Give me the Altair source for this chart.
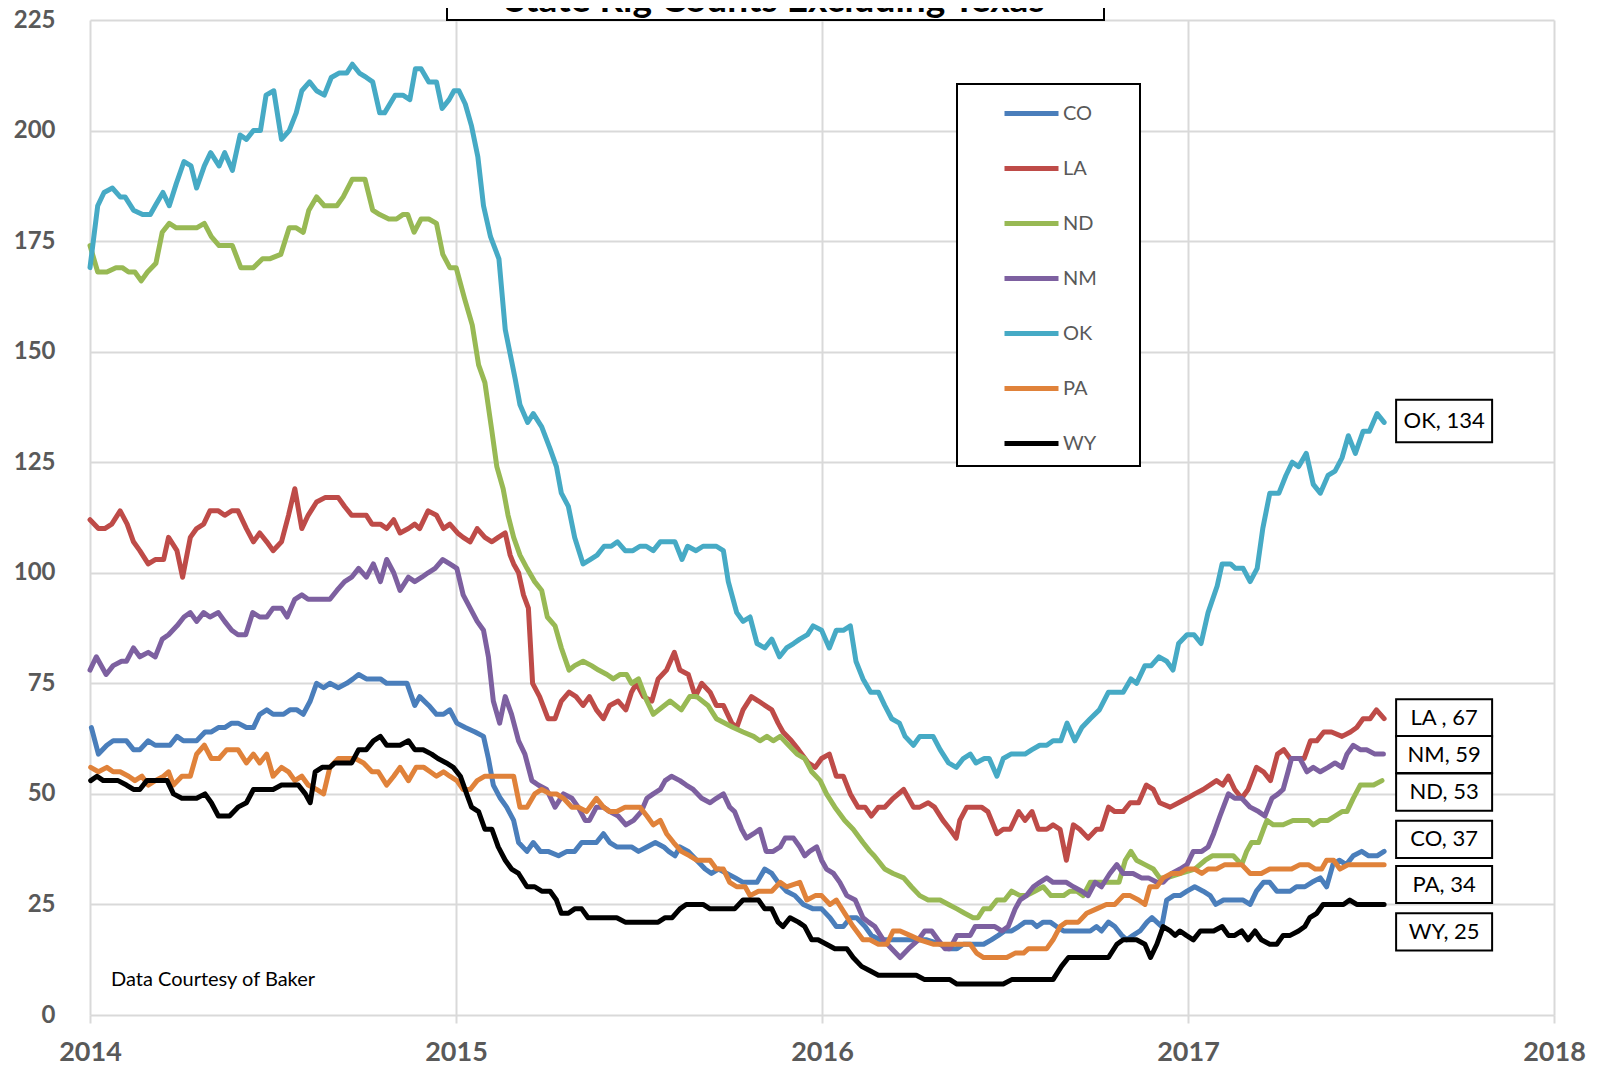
import altair as alt
import pandas as pd

SERIES = ["CO", "LA", "ND", "NM", "OK", "PA", "WY"]
COLORS = ["#4A7EBB", "#BE4B48", "#98B954", "#7D60A0", "#46AAC5", "#E0823A", "#000000"]

# (week index since first week of 2014, rig count)
CO = [(0.2,65),(1.2,59),(2.4,61),(3.3,62),(5.2,62),(6.2,60),(7.1,60),(8.3,62),(9.3,61),(11.4,61),(12.4,63),(13.3,62),(15.2,62),(16.4,64),(17.3,64),(18.3,65),(19.2,65),(20.2,66),(21.1,66),(22.3,65),(23.3,65),(24.2,68),(25.2,69),(26.1,68),(27.6,68),(28.5,69),(29.5,69),(30.4,68),(31.4,71),(32.3,75),(33.3,74),(34.2,75),(35.4,74),(36.6,75),(37.5,76),(38.3,77),(39.4,76),(41.4,76),(42.3,75),(45.2,75),(46.3,70),(47,72),(48.3,70),(49.4,68),(50.4,68),(51.3,69),(52.3,66),(53.5,65),(54.9,64),(56.1,63),(56.8,58),(57.5,52),(58.5,49),(59.4,47),(60.4,44),(61.1,39),(62.3,37),(63.2,39),(64.2,37),(65.3,37),(66.8,36),(68,37),(69.1,37),(70.1,39),(72.2,39),(73.2,41),(74.1,39),(75.1,38),(77.2,38),(78.2,37),(79.4,38),(80.6,39),(81.8,38),(82.5,37),(83.4,36),(84.1,38),(85.3,37),(86.5,35),(87.7,33),(88.6,32),(89.6,33),(90.8,32),(92,31),(93.1,30),(95.1,30),(96.2,33),(97.2,32),(98.1,30),(99.3,28),(100.5,27),(101.7,25),(103.1,24),(104.3,24),(105.5,22),(106.4,20),(107.4,20),(108.4,22),(109.3,22),(110.5,20),(111.4,18),(112.6,17),(114,17),(116.9,17),(119.3,17),(121.2,16),(122.4,15),(123.6,15),(124.5,16),(126,16),(127.4,16),(128.5,17),(129.5,18),(130.4,19),(131.4,19),(132.4,20),(133.3,21),(134.3,21),(135,20),(135.9,21),(136.9,21),(137.8,20),(138.8,19),(140.7,19),(142.6,19),(143.5,20),(144.2,19),(145.2,21),(146.1,20),(147.1,18),(147.8,17),(148.7,18),(149.7,19),(150.7,21),(151.4,22),(152.1,21),(152.8,20),(153.5,26),(154.5,27),(155.4,27),(156.4,28),(157.5,29),(158.7,28),(159.7,27),(160.5,25),(161.6,26),(164.4,26),(165.4,25),(166.3,28),(167.3,30),(168.2,30),(169.2,28),(171.1,28),(172,29),(173.2,29),(174.2,30),(175.4,31),(176.3,29),(177.2,34),(178.1,35),(179.1,34),(180.1,36),(181.3,37),(182.3,36),(183.5,36),(184.5,37)]

LA = [(0,112),(1.2,110),(2.1,110),(3.1,111),(4.3,114),(5.3,111),(6.2,107),(7.1,105),(8.3,102),(9.3,103),(10.5,103),(11.2,108),(12.4,105),(13.2,99),(14.3,108),(15.2,110),(16.2,111),(17.1,114),(18.3,114),(19.2,113),(20.2,114),(21.1,114),(22.3,110),(23.3,107),(24.2,109),(25.2,107),(26.1,105),(27.3,107),(28.3,113),(29.2,119),(30.2,110),(31.1,113),(32.3,116),(33.5,117),(35.4,117),(36.3,115),(37.3,113),(39.4,113),(40.2,111),(41.4,111),(42.3,110),(43.3,112),(44.2,109),(45.4,110),(46.3,111),(47,110),(48.2,114),(49.4,113),(50.4,110),(51.3,111),(52.4,109),(53.2,108),(54.2,107),(55.2,110),(56.3,108),(57.3,107),(58.2,108),(59.2,109),(59.9,104),(60.4,102),(61.1,100),(61.8,95),(62.5,92),(63.1,75),(64.1,72),(65.3,67),(66.3,67),(67.2,71),(68.3,73),(69.3,72),(70.3,70),(71.2,72),(72.2,69),(73.2,67),(74.1,70),(75.3,71),(76.4,69),(77.2,73),(77.9,75),(78.9,72),(80.1,71),(81,76),(82.2,78),(83.3,82),(84.1,78),(85.3,77),(86.3,72),(87.2,75),(88.4,73),(89.3,70),(90.3,70),(91.5,66),(92.2,65),(93.1,69),(94.3,72),(95.3,71),(97.2,69),(98.1,66),(98.8,64),(100,62),(101,60),(102.4,57),(103.4,56),(104.3,58),(105.4,59),(106.4,54),(107.4,54),(108.4,50),(109.5,47),(110.5,47),(111.4,45),(112.4,47),(113.3,47),(114.5,49),(116,51),(117.4,47),(118.3,47),(119.5,48),(120.4,47),(121.6,44),(122.6,42),(123.5,40),(124,44),(125,47),(126,47),(127.1,47),(128,46),(129.3,41),(130.2,42),(131.2,42),(132.4,46),(133.3,44),(134.3,46),(135.2,42),(136.4,42),(137.3,43),(138.3,42),(139.2,35),(140.2,43),(141.1,42),(142.3,40),(143.5,42),(144.2,42),(145.2,47),(146.1,46),(147.3,46),(148.3,48),(149.5,48),(150.6,52),(151.6,51),(152.5,48),(154,47),(155.2,48),(156.4,49),(157.5,50),(158.7,51),(160.6,53),(161.5,52),(162.3,54),(163.2,51),(164.2,49),(165.1,51),(166.3,56),(167.3,55),(168.3,53),(169.3,59),(170.2,60),(171.1,58),(172,58),(173.1,58),(174,62),(174.9,62),(175.9,64),(177,64),(178.5,63),(179.7,64),(180.6,65),(181.5,67),(182.5,67),(183.4,69),(184.5,67)]

ND = [(0,174),(1.1,168),(2.4,168),(3.7,169),(4.6,169),(5.5,168),(6.4,168),(7.3,166),(8.2,168),(9.4,170),(10.3,177),(11.3,179),(12.3,178),(15.2,178),(16.3,179),(17.3,176),(18.4,174),(20.3,174),(21.5,169),(23.3,169),(24.6,171),(25.6,171),(27.2,172),(28.4,178),(29.4,178),(30.4,177),(31.2,182),(32.3,185),(33.4,183),(35.2,183),(36.1,185),(37.4,189),(39.2,189),(40.3,182),(41.3,181),(42.6,180),(43.7,180),(44.6,181),(45.3,181),(46.2,177),(47.2,180),(48.3,180),(49.4,179),(50.3,172),(51.3,169),(52.2,169),(53.4,162),(54.5,156),(55.4,147),(56.3,143),(57.3,132),(58,124),(58.9,119),(59.6,113),(60.4,108),(61.3,104),(62.3,101),(63.4,98),(64.4,96),(65.2,90),(66.3,88),(67.2,83),(68.3,78),(69.1,79),(70.3,80),(71.5,79),(72.5,78),(73.7,77),(74.6,76),(75.6,77),(76.5,77),(77.2,75),(78.2,76),(79.4,71),(80.3,68),(82.7,71),(84.3,69),(85.5,72),(86.5,72),(88.1,70),(89.3,67),(91.7,65),(93.1,64),(94.6,63),(95.5,62),(96.5,63),(97.4,62),(98.4,63),(99.6,61),(100.8,59),(101.9,58),(102.9,55),(104.1,53),(105,50),(106.2,47),(107.6,44),(108.8,42),(110.2,39),(111.2,37),(111.8,36),(113.3,33),(114.5,32),(116,31),(117.1,29),(118.3,27),(119.5,26),(121.2,26),(122.4,25),(123.6,24),(124.7,23),(125.9,22),(126.6,22),(127.4,24),(128.3,24),(129.3,26),(130.4,26),(131.4,28),(132.6,27),(133.5,27),(134.7,28),(135.9,29),(137,27),(137.8,27),(138.8,27),(139.7,28),(140.7,28),(141.6,27),(142.6,30),(143.5,30),(144.5,30),(145.9,30),(146.7,30),(147.6,35),(148.4,37),(149.2,35),(150.4,34),(151.6,33),(152.5,31),(153.5,31),(155.5,32),(157.5,33),(159,35),(160,36),(161.6,36),(163,36),(164.2,34),(164.9,37),(165.6,39),(166.6,39),(167.3,42),(167.8,44),(168.7,43),(170.1,43),(171.5,44),(172.7,44),(173.7,44),(174.4,43),(175.4,44),(176.5,44),(177.5,45),(178.5,46),(179.2,46),(180.1,49),(181.1,52),(183,52),(184.2,53)]

NM = [(0,78),(0.9,81),(2.3,77),(3.3,79),(4.5,80),(5.2,80),(6.2,83),(7.1,81),(8.3,82),(9.3,81),(10.3,85),(11.2,86),(12.4,88),(13.4,90),(14.3,91),(15.2,89),(16.2,91),(17.1,90),(18.3,91),(19.2,89),(20.2,87),(21.1,86),(22.2,86),(23.2,91),(24.2,90),(25.2,90),(26.1,92),(27.3,92),(28.1,90),(29.2,94),(30.2,95),(31.1,94),(34.2,94),(35.2,96),(36.3,98),(37.3,99),(38.3,101),(39.4,99),(40.4,102),(41.4,98),(42.3,103),(43.3,100),(44.2,96),(45.4,99),(46.3,98),(47.3,99),(48.2,100),(49.2,101),(50.3,103),(51.3,102),(52.3,101),(53.2,95),(54.2,92),(55.2,89),(56.1,87),(56.8,81),(57.5,71),(58.4,66),(59.2,72),(60.1,68),(61.1,62),(62,59),(63,53),(63.9,52),(65.1,51),(66.3,47),(67.5,50),(68.7,49),(69.6,47),(70.6,44),(71.2,44),(72.2,47),(73.2,47),(74.1,46),(75.3,45),(76.4,43),(77.5,44),(78.6,46),(79.4,49),(80.3,50),(81.3,51),(82,53),(82.9,54),(84.1,53),(85,52),(86,51),(87.2,49),(88.4,48),(89.3,49),(90.3,50),(91.2,47),(91.9,46),(92.9,42),(93.6,40),(94.6,41),(95.5,42),(96.4,37),(97.4,37),(98.4,38),(99.1,40),(100.3,40),(101.2,38),(101.9,36),(102.6,37),(103.6,38),(104.3,35),(105,33),(106,32),(106.9,30),(107.9,27),(109.1,26),(110.2,22),(111,21),(111.9,20),(113.1,17),(114.3,15),(115.5,13),(116.7,15),(118.1,17),(119,19),(120,19),(120.9,17),(121.9,15),(122.6,15),(123.6,18),(124.3,18),(125.5,18),(126.2,20),(127.6,20),(129,20),(130,19),(130.9,20),(131.9,24),(132.6,26),(133.5,27),(134.5,29),(135.4,30),(136.4,31),(137.3,30),(139.2,30),(140.2,29),(141.4,28),(142.3,27),(143.3,30),(144.2,29),(145.4,32),(146.4,34),(147.3,32),(148.7,32),(149.9,31),(150.9,31),(152.1,30),(153,30),(154.2,32),(155.4,33),(156.4,34),(157.3,37),(158.5,37),(159.4,38),(160.2,41),(161.1,45),(162.3,50),(163.2,49),(164.2,49),(165.4,47),(166.6,46),(167.5,45),(168.5,49),(169.4,50),(170.1,51),(170.8,55),(171.3,58),(172.5,58),(173.5,55),(174.4,56),(175.4,55),(176.5,56),(177.5,57),(178.5,56),(179.2,59),(180.1,61),(181.1,60),(182,60),(183.2,59),(184.4,59)]

OK = [(0,169),(1.1,183),(2,186),(3.2,187),(4.3,185),(5,185),(6.2,182),(7.5,181),(8.6,181),(9.3,183),(10.4,186),(11.3,183),(12.3,188),(13.4,193),(14.4,192),(15.2,187),(16.3,192),(17.2,195),(18.4,192),(19.2,195),(20.3,191),(21.4,199),(22.3,198),(23.3,200),(24.3,200),(25.1,208),(26.2,209),(27.3,198),(28.4,200),(29.4,204),(30.2,209),(31.3,211),(32.3,209),(33.4,208),(34.4,212),(35.5,213),(36.6,213),(37.4,215),(38.4,213),(39.4,212),(40.3,211),(41.3,204),(42,204),(43.5,208),(44.6,208),(45.6,207),(46.4,214),(47.2,214),(48.3,211),(49.4,211),(50.2,205),(51.2,207),(51.9,209),(52.6,209),(53.5,206),(54.4,201),(55.3,194),(56.1,183),(57.1,176),(58.3,171),(59.2,155),(60.6,144),(61.3,138),(62.4,134),(63.2,136),(64.4,133),(65.6,128),(66.5,124),(67.2,118),(68.2,115),(69.1,108),(70.3,102),(71.3,103),(72.3,104),(73.3,106),(74.3,106),(75.2,107),(76.3,105),(77.4,105),(78.4,106),(79.3,106),(80.3,105),(81.3,107),(83.4,107),(84.4,103),(85.2,106),(86.4,105),(87.4,106),(89.3,106),(90.3,105),(91,98),(92.2,91),(93.1,89),(94.1,90),(95.1,84),(96.2,83),(97.2,85),(98.3,81),(99.3,83),(100.3,84),(101.2,85),(102.3,86),(103.1,88),(104.3,87),(105.4,83),(106.4,87),(107.4,87),(108.4,88),(109.2,80),(110.2,76),(111.3,73),(112.4,73),(113.3,70),(114.3,67),(115.4,66),(116.2,63),(117.4,61),(118.3,63),(120.2,63),(121.2,60),(122.4,57),(123.5,56),(124.5,58),(125.5,59),(126.3,57),(127.5,58),(128.2,58),(129.3,54),(130.2,58),(131.3,59),(133.3,59),(134.3,60),(135.4,61),(136.4,61),(137.3,62),(138.4,62),(139.3,66),(140.4,62),(141.4,65),(142.6,67),(143.9,69),(145.2,73),(147.3,73),(148.4,76),(149.2,75),(150.4,79),(151.3,79),(152.4,81),(153.5,80),(154.4,78),(155.2,84),(156.4,86),(157.4,86),(158.4,84),(159.4,91),(160.7,97),(161.4,102),(162.6,102),(163.3,101),(164.4,101),(165.4,98),(166.4,101),(167.2,110),(168.2,118),(169.5,118),(170.5,122),(171.4,125),(172.3,124),(173.4,127),(174.4,120),(175.4,118),(176.5,122),(177.5,123),(178.5,126),(179.4,131),(180.4,127),(181.5,132),(182.4,132),(183.5,136),(184.5,134)]

PA = [(0.1,56),(1.2,55),(2.4,56),(3.3,55),(4.3,55),(5.5,54),(6.4,53),(7.4,54),(8.3,52),(9.3,53),(10.5,54),(11.2,55),(11.9,52),(13.1,54),(14.3,54),(15.2,59),(16.3,61),(17.3,58),(18.4,58),(19.5,60),(21.1,60),(22.3,57),(23.3,59),(24.2,57),(25.2,59),(26.1,54),(27.3,56),(28.3,55),(29.2,53),(30.2,54),(31.1,52),(32.3,51),(33.3,50),(34.2,56),(35.4,58),(36.6,58),(37.8,58),(39,57),(40.2,55),(41.1,55),(42.3,52),(43.3,54),(44.2,56),(45.4,53),(46.5,56),(47.6,56),(48.5,55),(49.4,54),(50.4,55),(51.3,54),(52.3,53),(53.2,51),(54.2,51),(55.2,53),(56.3,54),(60.4,54),(61.3,47),(62.3,47),(63.4,50),(64.4,51),(65.6,50),(66.5,50),(67.5,49),(68.7,47),(69.6,47),(70.8,46),(72.2,49),(73.2,47),(74.1,46),(75.1,46),(76.3,47),(78.4,47),(79.4,45),(80.3,43),(81.3,44),(82.2,41),(83.2,39),(84.3,37),(85.5,36),(86.5,35),(88.4,35),(89.3,33),(90.3,33),(91.2,30),(92.2,29),(93.4,29),(94.1,27),(95.3,28),(97.2,28),(98.4,30),(99.3,29),(101.2,30),(102.2,26),(103.4,27),(104.3,27),(105.5,25),(106.4,26),(107.6,23),(108.8,20),(110.2,17),(111.2,17),(112.4,16),(113.6,16),(114.5,19),(115.5,19),(116.9,18),(118.3,17),(120.2,16),(125.5,16),(126.4,14),(127.4,13),(130.7,13),(131.9,14),(133.1,14),(133.8,15),(135,15),(136.4,15),(137.3,17),(138.3,20),(139.2,21),(140.9,21),(142.1,23),(143.5,24),(144.9,25),(146.1,25),(147.3,27),(148.3,27),(149.5,26),(150.4,25),(151.1,29),(152.1,29),(153,31),(154.2,32),(155.4,32),(156.3,33),(157.5,33),(158.5,32),(159.4,33),(160.6,33),(161.8,34),(163,34),(164.2,34),(165.4,32),(167,32),(168.2,33),(171.3,33),(172.5,34),(173.7,34),(174.7,33),(175.6,33),(176.3,35),(177.3,35),(178.2,33),(179.4,34),(184.5,34)]

WY = [(0.1,53),(1,54),(1.9,53),(4,53),(5.2,52),(6.2,51),(7.1,51),(8.1,53),(11,53),(11.9,50),(13.1,49),(15.2,49),(16.4,50),(17.3,48),(18.3,45),(19.9,45),(21.1,47),(22.3,48),(23.3,51),(26.1,51),(27.3,52),(29.7,52),(30.7,50),(31.4,48),(32.1,55),(33.1,56),(34.2,56),(34.9,57),(37.3,57),(38.3,60),(39.4,60),(40.4,62),(41.4,63),(42.3,61),(44.2,61),(45.4,62),(46.3,60),(47.5,60),(48.7,59),(49.6,58),(50.8,57),(51.8,56),(52.8,54),(53.7,50),(54.4,47),(55.4,46),(56.3,42),(57.3,42),(58.2,38),(59.2,35),(60.1,33),(61.1,32),(62.3,29),(63.4,29),(64.4,28),(65.6,28),(66.5,26),(67.2,23),(68.2,23),(69.1,24),(70.1,24),(71,22),(75.1,22),(76.3,21),(81,21),(82,22),(83,22),(84.1,24),(85,25),(87.4,25),(88.4,24),(91.9,24),(93.1,26),(95.3,26),(96.2,24),(97.2,24),(98.1,21),(98.8,20),(99.8,22),(101,21),(101.9,20),(102.9,17),(103.8,17),(105,16),(106.2,15),(107.9,15),(108.8,13),(110,11),(111.2,10),(112.4,9),(117.8,9),(119,8),(122.6,8),(123.6,7),(130.2,7),(131.4,8),(137.3,8),(138.5,11),(139.5,13),(145.2,13),(146.4,16),(147.3,17),(149.2,17),(150.4,16),(151.2,13),(152.1,16),(153,20),(154,19),(154.7,18),(155.4,19),(156.3,18),(157.3,17),(158.3,19),(160.2,19),(161.4,20),(162.3,18),(163.2,18),(164.2,19),(165.1,17),(166.1,19),(167,17),(168.2,16),(169.2,16),(170.1,18),(171.1,18),(172.3,19),(173.2,20),(173.9,22),(174.9,23),(175.8,25),(176.6,25),(178.7,25),(179.6,26),(180.6,25),(184.5,25)]

# end-of-series data labels (text, vertical centre in rig-count units)
LABEL_TEXT = ["OK, 134", "LA , 67", "NM, 59", "ND, 53", "CO, 37", "PA, 34", "WY, 25"]
LABEL_Y = [134.3, 67.2, 58.9, 50.4, 39.7, 29.5, 18.8]

TITLE = "State Rig Counts Excluding Texas"
NOTE = "Data Courtesy of Baker"
YEARS = [2014, 2015, 2016, 2017, 2018]
Y_TICKS = list(range(0, 226, 25))

WEEKS_PER_YEAR = 52.18
W, H = 1464, 995
PX_PER_YEAR = W / 4.0

rows = []
for name, pts in zip(SERIES, [CO, LA, ND, NM, OK, PA, WY]):
    for w, v in pts:
        rows.append({"series": name, "year": 2014 + w / WEEKS_PER_YEAR, "value": v})
df = pd.DataFrame(rows)

xscale = alt.Scale(domain=[2014, 2018], nice=False, zero=False)
yscale = alt.Scale(domain=[0, 225], nice=False)
FONT = "Lato"
GRID = "#d9d9d9"
LABEL_GRAY = "#595959"

lines = alt.Chart(df).mark_line(strokeWidth=5, strokeJoin="round", strokeCap="round").encode(
    x=alt.X("year:Q", scale=xscale, title=None,
            axis=alt.Axis(values=YEARS, format="d", grid=True, gridColor=GRID, gridWidth=2,
                          ticks=True, tickColor=GRID, tickWidth=2, tickSize=8, domain=False,
                          labelFont=FONT, labelFontWeight="bold", labelFontSize=27,
                          labelColor=LABEL_GRAY, labelPadding=16, labelFlush=False)),
    y=alt.Y("value:Q", scale=yscale, title=None,
            axis=alt.Axis(values=Y_TICKS, grid=True, gridColor=GRID, gridWidth=2,
                          ticks=False, tickSize=0, domain=False, labelFont=FONT,
                          labelFontWeight="bold", labelFontSize=24, labelColor=LABEL_GRAY,
                          labelPadding=35)),
    color=alt.Color("series:N", scale=alt.Scale(domain=SERIES, range=COLORS),
                    legend=alt.Legend(title=None, orient="none", legendX=912, legendY=64,
                                      symbolType="stroke", symbolSize=2916, symbolStrokeWidth=5,
                                      labelFont=FONT, labelFontSize=20, labelColor=LABEL_GRAY,
                                      labelOffset=2, rowPadding=15, padding=0)),
)

one = pd.DataFrame({"k": [0]})

legend_box = alt.Chart(one).mark_rect(fill="white", stroke="black", strokeWidth=2).encode(
    x=alt.value(867), x2=alt.value(1050), y=alt.value(64), y2=alt.value(446))

title_box = alt.Chart(one).mark_rect(fill="white", stroke="black", strokeWidth=2).encode(
    x=alt.value(357), x2=alt.value(1014), y=alt.value(-60), y2=alt.value(0))

title_text = alt.Chart(one).mark_text(text=TITLE, font=FONT, fontWeight="bold", fontSize=37,
                                      align="center", baseline="alphabetic", color="black").encode(
    x=alt.value(685), y=alt.value(-8))

note = alt.Chart(one).mark_text(text=NOTE, font=FONT, fontSize=20, align="left",
                                baseline="middle", color="black").encode(
    x=alt.value(21), y=alt.value(960))

last_year = df["year"].max()
box_w = 96 / PX_PER_YEAR
lab = pd.DataFrame({"text": LABEL_TEXT, "yc": LABEL_Y})
lab["x1"] = last_year + 12 / PX_PER_YEAR
lab["x2"] = lab["x1"] + box_w
lab["xc"] = (lab["x1"] + lab["x2"]) / 2
half = [(9.6 if t.startswith("OK") else 8.4) / 2 for t in LABEL_TEXT]
lab["y1"] = lab["yc"] - half
lab["y2"] = lab["yc"] + half

label_boxes = alt.Chart(lab).mark_rect(fill="white", stroke="black", strokeWidth=2).encode(
    x=alt.X("x1:Q", scale=xscale, title=None), x2="x2:Q",
    y=alt.Y("y1:Q", scale=yscale, title=None), y2="y2:Q")

label_text = alt.Chart(lab).mark_text(font=FONT, fontSize=22, color="black", align="center",
                                      baseline="middle").encode(
    x=alt.X("xc:Q", scale=xscale, title=None),
    y=alt.Y("yc:Q", scale=yscale, title=None),
    text="text:N")

chart = alt.layer(lines, legend_box, title_box, title_text, note, label_boxes, label_text).properties(
    width=W, height=H,
    autosize=alt.AutoSizeParams(type="none"),
    padding={"left": 82, "top": 12, "right": 38, "bottom": 50},
    background="white",
).configure_view(strokeWidth=0)

chart.save("out.html", embed_options={"renderer": "svg", "actions": False})
